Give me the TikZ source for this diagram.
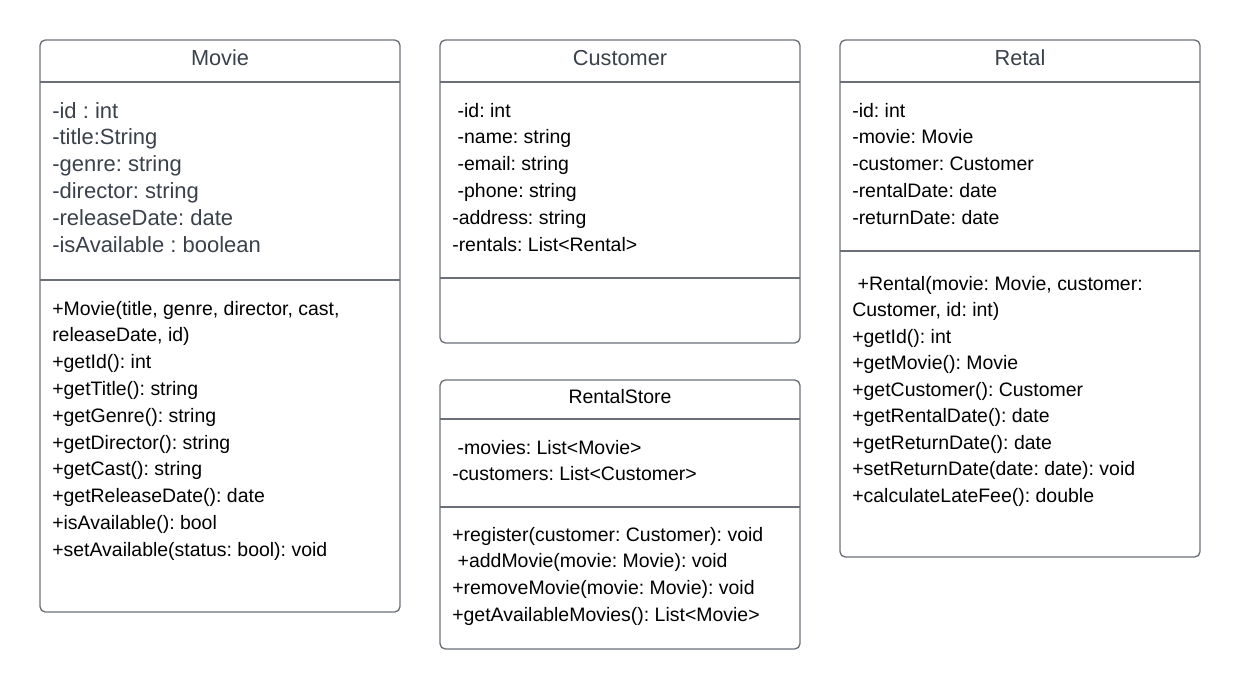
\documentclass[tikz,border=0pt]{standalone}
\usepackage{fontspec}
\setmainfont{Liberation Sans}
\frenchspacing
\definecolor{boxline}{HTML}{6B7078}
\definecolor{graytext}{HTML}{3A414A}
\tikzset{
  classbox/.style={draw=boxline, line width=1pt, rounded corners=4pt},
  sepline/.style={draw=boxline, line width=1pt},
  classtitle/.style={font=\fontsize{16.3}{19}\selectfont, text=graytext, inner sep=0pt},
  member/.style={font=\fontsize{14.6}{17}\selectfont, anchor=base west, inner sep=0pt},
  bigmember/.style={member, font=\fontsize{16.5}{19}\selectfont, text=graytext},
}
\begin{document}
\begin{tikzpicture}[x=0.75pt,y=-0.75pt]
\useasboundingbox (0,0) rectangle (1240,689);

% class Movie
  \draw[classbox] (40,40) rectangle (400,612);
  \draw[sepline] (40,82) -- (400,82);
  \draw[sepline] (40,280) -- (400,280);
  \node[classtitle] (movie) at (220,58) {Movie};
  \foreach \txt [count=\i from 0] in {-id : int, -title:String, -genre: string,
      -director: string, -releaseDate: date, -isAvailable : boolean}
    \node[bigmember] (mva\i) at (52,{118+26.8*\i}) {\txt};
  \foreach \txt [count=\i from 0] in {{+Movie(title, genre, director, cast,},
      {releaseDate, id)}, +getId(): int, +getTitle(): string, +getGenre(): string,
      +getDirector(): string, +getCast(): string, +getReleaseDate(): date,
      +isAvailable(): bool, +setAvailable(status: bool): void}
    \node[member] (mvm\i) at (52,{315+26.8*\i}) {\txt};

% class Customer
  \draw[classbox] (440,40) rectangle (800,343);
  \draw[sepline] (440,82) -- (800,82);
  \draw[sepline] (440,278) -- (800,278);
  \node[classtitle] (customer) at (620,58) {Customer};
  \foreach \txt [count=\i from 0] in {\ -id: int, \ -name: string, \ -email: string,
      \ -phone: string, -address: string, -rentals: List<Rental>}
    \node[member] (cua\i) at (452,{117+26.8*\i}) {\txt};

% class RentalStore
  \draw[classbox] (440,380) rectangle (800,649);
  \draw[sepline] (440,419) -- (800,419);
  \draw[sepline] (440,507) -- (800,507);
  \node[classtitle, font=\fontsize{14.6}{17}\selectfont, text=black] (store) at (620,397) {RentalStore};
  \foreach \txt [count=\i from 0] in {\ -movies: List<Movie>, -customers: List<Customer>}
    \node[member] (sta\i) at (452,{454+26.8*\i}) {\txt};
  \foreach \txt [count=\i from 0] in {+register(customer: Customer): void,
      \ +addMovie(movie: Movie): void, +removeMovie(movie: Movie): void,
      +getAvailableMovies(): List<Movie>}
    \node[member] (stm\i) at (452,{541+26.8*\i}) {\txt};

% class Retal
  \draw[classbox] (840,40) rectangle (1200,557);
  \draw[sepline] (840,82) -- (1200,82);
  \draw[sepline] (840,251) -- (1200,251);
  \node[classtitle] (rental) at (1020,58) {Retal};
  \foreach \txt [count=\i from 0] in {-id: int, -movie: Movie, -customer: Customer,
      -rentalDate: date, -returnDate: date}
    \node[member] (rea\i) at (852,{117+26.8*\i}) {\txt};
  \foreach \txt [count=\i from 0] in {{\ +Rental(movie: Movie, customer:},
      {Customer, id: int)}, +getId(): int, +getMovie(): Movie, +getCustomer(): Customer,
      +getRentalDate(): date, +getReturnDate(): date,
      +setReturnDate(date: date): void, +calculateLateFee(): double}
    \node[member] (rem\i) at (852,{290+26.5*\i}) {\txt};
\end{tikzpicture}
\end{document}
